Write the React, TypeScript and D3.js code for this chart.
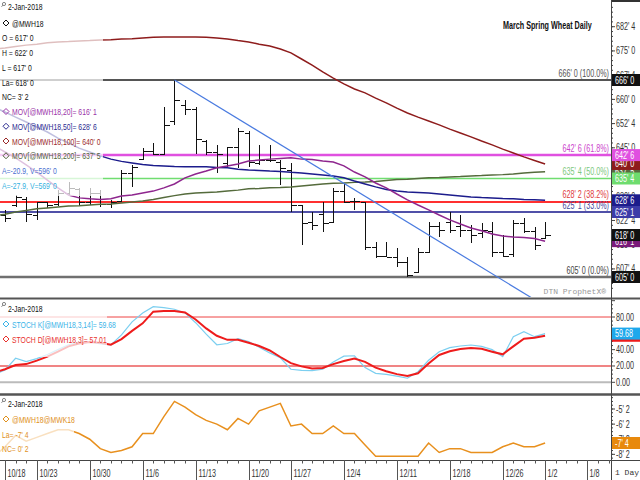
import * as d3 from 'd3';

// trading days shown on the time axis (10/17 sits just left of the plot edge)
const tradingDays = [
  '10/17', '10/18', '10/19', '10/20', '10/23', '10/24', '10/25', '10/26', '10/27',
  '10/30', '10/31', '11/1', '11/2', '11/3', '11/6', '11/7', '11/8', '11/9', '11/10',
  '11/13', '11/14', '11/15', '11/16', '11/17', '11/20', '11/21', '11/22', '11/24',
  '11/27', '11/28', '11/29', '11/30', '12/1', '12/4', '12/5', '12/6', '12/7', '12/8',
  '12/11', '12/12', '12/13', '12/14', '12/15', '12/18', '12/19', '12/20', '12/21', '12/22',
  '12/26', '12/27', '12/28', '12/29', '1/2', '1/3', '1/4', '1/5', '1/8', '1/9', '1/10',
];
const xTickLabels = ['10/18', '10/23', '10/30', '11/6', '11/13', '11/20', '11/27', '12/4', '12/11', '12/18', '12/26', '1/2', '1/8'];

// OHLC bars, 10/18 .. 1/2 (cents/bu)
const barOpen = [624, 627, 629, 624, 628, 627.5, 631, 632, 628, 631, 627.5, 628.5, 637, 641.5, 644, 643, 653, 658, 657, 647, 643.5, 640, 645, 649.5, 640, 641, 640.5, 638, 627, 622, 624.5, 622, 631.5, 628.5, 628, 614, 611.5, 611, 609.5, 606.5, 612.5, 620.5, 622, 620.5, 619.5, 618.5, 619, 612.5, 612, 621.5, 619, 617];
const barHigh = [625.8, 630.4, 629.8, 628.2, 628.2, 632, 634.4, 632.6, 632.6, 631.9, 628.8, 638.1, 639.7, 644.9, 646.5, 657.6, 666, 659.8, 657.6, 647.4, 645.9, 645.3, 651.1, 650.2, 645.9, 645.9, 641.2, 640.3, 627.3, 625.1, 628.2, 632.6, 634.1, 629.5, 628.2, 615.8, 615.8, 614, 611.2, 614, 622, 622, 625.1, 624.2, 621.1, 621.7, 622, 618, 622.7, 623.3, 620.5, 622];
const barLow = [622, 626.7, 622, 622.7, 626.4, 627, 630.4, 627.3, 627.3, 626.7, 626.4, 628.2, 632.9, 641.2, 642.8, 642.8, 652.1, 655.2, 643, 642.8, 637.2, 639.1, 638.8, 639.1, 639.7, 640.6, 633.5, 625.1, 614.9, 619.6, 618.9, 621.7, 627.9, 625.8, 613.4, 610.9, 611.2, 608.1, 605, 606.2, 612.4, 617.4, 618.6, 617.4, 615.5, 617.1, 611.2, 611.2, 611.2, 618.6, 613.4, 617];
const barClose = [623, 629.5, 624.5, 628, 627, 631, 632.5, 628, 631, 627.5, 628, 637, 639, 644, 643, 652, 659.5, 657, 647.5, 643.5, 643, 645, 650, 640.5, 641, 641, 638.5, 627, 621.5, 621, 621.5, 631.5, 628, 628.5, 614, 611.5, 611, 609.5, 605.5, 612.5, 620.5, 619.5, 619.5, 619.5, 618, 619.5, 612.5, 611.5, 621.5, 619, 614.75, 618];

// moving averages, 10/17 .. 1/2
const ma20 = [645.6, 643.7, 641.9, 639.7, 637.5, 635.0, 632.6, 630.4, 629.5, 629.2, 629.0, 629.2, 630.1, 630.4, 631.0, 631.6, 632.6, 633.8, 635.7, 636.9, 637.8, 638.8, 639.4, 640.0, 640.9, 641.2, 641.5, 641.7, 641.9, 641.5, 641.4, 640.9, 640.6, 639.4, 637.5, 636.0, 634.1, 632.6, 630.7, 628.9, 627.3, 625.8, 624.2, 622.7, 621.4, 620.2, 619.3, 618.3, 617.7, 617.4, 617.2, 616.9, 616.1];
const ma50 = [657.5, 656.1, 654.5, 653.0, 651.4, 649.9, 648.0, 646.5, 644.9, 643.7, 642.5, 641.5, 640.8, 640.3, 639.8, 639.5, 639.4, 639.2, 639.1, 639.1, 639.1, 638.9, 638.8, 638.4, 638.1, 638.0, 637.8, 637.7, 637.4, 637.2, 636.9, 636.6, 636.3, 635.7, 634.7, 633.8, 632.9, 632.1, 631.6, 631.3, 631.2, 631.0, 630.7, 630.4, 630.1, 629.8, 629.6, 629.5, 629.3, 629.2, 629.0, 628.9, 628.75];
const ma100 = [675.6, 675.9, 676.4, 676.8, 677.1, 677.5, 677.8, 677.9, 678.1, 678.2, 678.4, 678.5, 678.7, 678.8, 679.0, 679.2, 679.3, 679.3, 679.3, 679.3, 679.2, 679.0, 678.7, 678.2, 677.8, 677.1, 676.5, 675.6, 674.4, 672.5, 670.6, 668.5, 666.6, 664.8, 663.2, 662.0, 660.4, 658.9, 657.3, 655.8, 654.5, 653.3, 652.1, 650.8, 649.6, 648.4, 647.1, 645.9, 644.6, 643.4, 642.2, 641.1, 640.0];
const ma200 = [623.9, 624.4, 625.1, 625.6, 626.1, 626.4, 626.7, 627.0, 627.1, 627.3, 627.5, 627.6, 627.9, 628.2, 628.5, 629.0, 629.6, 630.2, 630.7, 631.0, 631.2, 631.3, 631.6, 631.9, 632.3, 632.4, 632.6, 632.7, 632.9, 633.2, 633.5, 633.8, 634.0, 634.1, 634.3, 634.4, 634.6, 634.9, 635.2, 635.3, 635.5, 635.7, 635.8, 636.0, 636.1, 636.3, 636.4, 636.6, 636.7, 636.9, 637.2, 637.4, 637.6];

// stochastics, 10/17 .. 1/2
const stochK = [10, 15, 29.4, 25.3, 29, 34, 40, 46, 49, 49.7, 47, 45.7, 58, 74, 85, 92.6, 91.5, 89.5, 85, 73, 59, 46, 47.5, 53.5, 50, 43, 36, 30, 16, 14.5, 14.3, 16, 25, 32, 32.5, 18, 11, 9.8, 7.5, 5, 13, 27, 37.5, 42.5, 44.5, 45.7, 44, 40, 31.4, 55.9, 62, 55.9, 59.68];
const stochD = [12, 16, 21.2, 22.3, 26.5, 31.5, 37.5, 44, 47.5, 49.5, 48.5, 46, 53, 63, 72.2, 86.5, 87.3, 87.3, 85.5, 77, 66, 57, 52, 52, 48.5, 44.5, 39, 31, 23.5, 19.5, 16.8, 17.5, 22.3, 26, 29, 25, 18, 13.5, 10, 7.8, 11, 23, 33.5, 38, 40.8, 42, 41, 37.5, 34.3, 44, 53.5, 54.6, 57.01];

// March/May spread, 10/17 .. 1/2
const spread = [-8.375, -7.75, -7.0, -7.375, -7.125, -6.875, -6.625, -6.625, -6.875, -7.25, -7.875, -8.125, -8.0, -7.75, -6.875, -6.875, -5.75, -4.75, -5.125, -5.625, -6.0, -6.25, -6.625, -5.875, -6.25, -5.375, -5.125, -4.875, -6.375, -6.25, -6.875, -6.875, -6.375, -6.875, -6.875, -7.625, -8.375, -8.375, -8.375, -8.375, -8.375, -7.5, -8.125, -7.875, -7.875, -8.125, -8.125, -8.125, -7.75, -7.5, -7.75, -7.75, -7.5];

// retracement levels and the downtrend line
const fibValues = [666, 642.75, 635.5, 628.25, 625.125, 605];
const fibPcts = ['100.0%', '61.8%', '50.0%', '38.2%', '33.0%', '0.0%'];
const trendDays = ['11/9', '1/2'];
const trendValues = [666, 596];

const priceTicks = [607.5, 615, 622.5, 630, 637.5, 645, 652.5, 660, 667.5, 675, 682.5];
const stochTicks = [0, 20, 40, 60, 80];
const spreadTicks = [-8.25, -7.25, -6.25, -5.25];

const font = "'Liberation Sans', Arial, sans-serif";
const mono = "'Liberation Mono', 'DejaVu Sans Mono', monospace";
const squeeze = 0.72; // the terminal's narrow UI font

const plotRight = 611;
const x = d3.scalePoint<string>().domain(tradingDays).range([5 - 10.59, 5 + 57 * 10.59]);
const yPrice = d3.scaleLinear().domain([605, 666]).range([277, 80]);
const yStoch = d3.scaleLinear().domain([0, 80]).range([382.3, 317]);
const ySpread = d3.scaleLinear().domain([-7.5, -5.25]).range([443, 409]);

function fmt8(v: number) {
  const sign = v < 0 ? '-' : '';
  const a = Math.abs(v);
  let w = Math.floor(a);
  let e = Math.round((a - w) * 8);
  if (e === 8) { w += 1; e = 0; }
  return `${sign}${w}' ${e}`;
}

function T({ x, y, fill = '#111', size = 9.5, anchor = 'start', bold = false, children }:
  { x: number; y: number; fill?: string; size?: number; anchor?: string; bold?: boolean; children: any }) {
  return (
    <text transform={`translate(${x},${y}) scale(${squeeze},1)`} fontSize={size} fill={fill}
      textAnchor={anchor as any} fontWeight={bold ? 'bold' : 'normal'} fontFamily={font}>
      {children}
    </text>
  );
}

function Diamond({ cx, cy, color }: { cx: number; cy: number; color: string }) {
  return <path d={`M${cx},${cy - 3}L${cx + 3},${cy}L${cx},${cy + 3}L${cx - 3},${cy}Z`} fill="none" stroke={color} strokeWidth={1} />;
}

function Lens({ x0, y0 }: { x0: number; y0: number }) {
  return (
    <g stroke="#666" strokeWidth={0.8} fill="none">
      <circle cx={x0 + 2} cy={y0 + 2} r={1.6} />
      <line x1={x0 + 0.8} y1={y0 + 3.2} x2={x0 - 0.5} y2={y0 + 4.8} />
    </g>
  );
}

function ValueBox({ y, fill, label }: { y: number; fill: string; label: string }) {
  return (
    <g>
      <rect x={plotRight + 1} y={y - 6} width={640 - plotRight - 1} height={12} fill={fill} />
      <T x={plotRight + 4} y={y + 3.5} fill="#fff" size={10}>{label}</T>
    </g>
  );
}

export default function App() {
  const lineDays = tradingDays.slice(0, ma20.length);
  const barDays = tradingDays.slice(1, 1 + barOpen.length);
  const path = (vals: number[], y: (v: number) => number) =>
    d3.line<number>().x((_, i) => x(lineDays[i])!).y((d) => y(d))(vals) || '';

  const last = barOpen.length - 1;
  const nc = barClose[last] - barClose[last - 1];
  const spreadNc = spread[spread.length - 1] - spread[spread.length - 2];

  const fibColors = ['#555555', '#e050e0', '#70dd70', '#ff3030', '#5050a8', '#707070'];
  const fibText = ['#555555', '#cc44cc', '#7cc87c', '#e03a3a', '#4848a0', '#444444'];
  const fibWidth = [2, 2.5, 1.5, 2, 2, 2.5];

  const rowY = (r: number) => 26.5 + r * 14.75;
  const mainRows: { t: string; c: string; d?: boolean }[] = [
    { t: '@MWH18', c: '#111', d: true },
    { t: `O = ${fmt8(barOpen[last])}`, c: '#111' },
    { t: `H = ${fmt8(barHigh[last])}`, c: '#111' },
    { t: `L = ${fmt8(barLow[last])}`, c: '#111' },
    { t: `La= ${fmt8(barClose[last])}`, c: '#111' },
    { t: `NC= ${fmt8(nc)}`, c: '#111' },
    { t: `MOV[@MWH18,20]= ${fmt8(ma20[ma20.length - 1])}`, c: '#9a32a8', d: true },
    { t: `MOV[@MWH18,50]= ${fmt8(ma50[ma50.length - 1])}`, c: '#2a2a90', d: true },
    { t: `MOV[@MWH18,100]= ${fmt8(ma100[ma100.length - 1])}`, c: '#9a2a2a', d: true },
    { t: `MOV[@MWH18,200]= ${fmt8(ma200[ma200.length - 1])}`, c: '#4f5f3a', d: true },
    { t: `A=-20.9, V=${fmt8(trendValues[1])}`, c: '#4a6fd0' },
    { t: "A=-27.9, V=569' 0", c: '#35b0e0' },
  ];

  const px = (d: string) => Math.round(x(d)!) + 0.5;

  return (
    <svg width={640} height={480} style={{ position: 'fixed', left: 0, top: 0, background: '#fff' }} fontFamily={font}>
      <defs>
        <clipPath id="cMain"><rect x={0} y={0} width={plotRight} height={297} /></clipPath>
        <clipPath id="cStoch"><rect x={0} y={299} width={plotRight} height={94} /></clipPath>
        <clipPath id="cSpread"><rect x={0} y={396} width={plotRight} height={64} /></clipPath>
      </defs>
      <rect x={0} y={0} width={640} height={480} fill="#fff" />

      {/* ---------- price panel ---------- */}
      <g clipPath="url(#cMain)">
        {fibValues.map((v, i) => (
          <line key={v} x1={0} x2={plotRight} y1={yPrice(v)} y2={yPrice(v)} stroke={fibColors[i]} strokeWidth={fibWidth[i]} />
        ))}
        <g stroke="#111" strokeWidth={1} shapeRendering="crispEdges">
          {barDays.map((d, i) => {
            const cx = px(d);
            return (
              <g key={d}>
                <line x1={cx} x2={cx} y1={yPrice(barHigh[i])} y2={yPrice(barLow[i])} />
                <line x1={cx - 5} x2={cx} y1={yPrice(barOpen[i])} y2={yPrice(barOpen[i])} />
                <line x1={cx} x2={cx + 5} y1={yPrice(barClose[i])} y2={yPrice(barClose[i])} />
              </g>
            );
          })}
        </g>
        <path d={path(ma200, yPrice)} fill="none" stroke="#556b3c" strokeWidth={1.5} />
        <path d={path(ma100, yPrice)} fill="none" stroke="#8e1c1c" strokeWidth={1.5} />
        <path d={path(ma50, yPrice)} fill="none" stroke="#1c1c8c" strokeWidth={1.5} />
        <path d={path(ma20, yPrice)} fill="none" stroke="#8e268e" strokeWidth={1.5} />
        <line x1={x(trendDays[0])} y1={yPrice(trendValues[0])} x2={x(trendDays[1])} y2={yPrice(trendValues[1])} stroke="#4a7be0" strokeWidth={1.2} />
        {fibValues.map((v, i) => (
          <T key={v} x={609} y={yPrice(v) - 3.5} anchor="end" size={10} fill={fibText[i]}>{`${fmt8(v)} (${fibPcts[i]})`}</T>
        ))}
        <text x={606} y={294} textAnchor="end" fontSize={8} fontFamily={mono} fill="#999">DTN ProphetX®</text>
      </g>
      <rect x={0} y={0} width={103} height={196} fill="#fff" opacity={0.72} />
      <Lens x0={2} y0={2} />
      <T x={8} y={10}>2-Jan-2018</T>
      {mainRows.map((r, i) => (
        <g key={r.t}>
          {r.d && <Diamond cx={6} cy={rowY(i) - 3.5} color={r.c} />}
          <T x={r.d ? 12 : 2} y={rowY(i)} fill={r.c}>{r.t}</T>
        </g>
      ))}
      <T x={503} y={29} size={10} bold>March Spring Wheat Daily</T>

      {/* price axis */}
      <g stroke="#444" strokeWidth={1}>
        {d3.range(601.5, 690, 1.5).map((v) => (
          <line key={v} x1={plotRight} x2={plotRight + 2} y1={yPrice(v)} y2={yPrice(v)} />
        ))}
        {priceTicks.map((v) => (
          <line key={v} x1={plotRight} x2={plotRight + 4} y1={yPrice(v)} y2={yPrice(v)} />
        ))}
      </g>
      {priceTicks.map((v) => (
        <T key={v} x={616} y={yPrice(v) + 3.5} size={10} fill="#333">{fmt8(v)}</T>
      ))}
      <ValueBox y={yPrice(ma200[ma200.length - 1])} fill="#5a6a40" label={fmt8(ma200[ma200.length - 1])} />
      <ValueBox y={yPrice(fibValues[2])} fill="#6edc6e" label={fmt8(fibValues[2])} />
      <ValueBox y={yPrice(fibValues[3])} fill="#ff2a2a" label={fmt8(fibValues[3])} />
      <ValueBox y={yPrice(ma50[ma50.length - 1])} fill="#1c1c8c" label={fmt8(ma50[ma50.length - 1])} />
      <ValueBox y={yPrice(fibValues[4])} fill="#3c3ca8" label={fmt8(fibValues[4])} />
      <ValueBox y={yPrice(ma100[ma100.length - 1])} fill="#8e1c1c" label={fmt8(ma100[ma100.length - 1])} />
      <ValueBox y={yPrice(fibValues[1])} fill="#e050e0" label={fmt8(fibValues[1])} />
      <ValueBox y={yPrice(ma20[ma20.length - 1])} fill="#7a1a7a" label={fmt8(ma20[ma20.length - 1])} />
      <ValueBox y={yPrice(barClose[last])} fill="#111" label={fmt8(barClose[last])} />
      <ValueBox y={yPrice(fibValues[0])} fill="#111" label={fmt8(fibValues[0])} />
      <ValueBox y={yPrice(fibValues[5])} fill="#111" label={fmt8(fibValues[5])} />

      {/* ---------- stochastic panel ---------- */}
      <g clipPath="url(#cStoch)">
        <line x1={0} x2={plotRight} y1={yStoch(80)} y2={yStoch(80)} stroke="#ee4444" strokeWidth={1} />
        <line x1={0} x2={plotRight} y1={yStoch(20)} y2={yStoch(20)} stroke="#f08484" strokeWidth={2} />
        <line x1={0} x2={plotRight} y1={yStoch(0)} y2={yStoch(0)} stroke="#bbbbbb" strokeWidth={2} />
        <path d={path(stochK, yStoch)} fill="none" stroke="#7ccff0" strokeWidth={1.2} />
        <path d={path(stochD, yStoch)} fill="none" stroke="#ee1c1c" strokeWidth={2} />
      </g>
      <rect x={0} y={300} width={107} height={57} fill="#fff" opacity={0.72} />
      <Lens x0={2} y0={302} />
      <T x={8} y={312}>2-Jan-2018</T>
      <Diamond cx={6} cy={324} color="#3ab4e8" />
      <T x={12} y={327.5} fill="#3ab4e8">{`STOCH K[@MWH18,3,14]=  ${stochK[stochK.length - 1].toFixed(2)}`}</T>
      <Diamond cx={6} cy={339} color="#e8302c" />
      <T x={12} y={342.5} fill="#e8302c">{`STOCH D[@MWH18,3]=  ${stochD[stochD.length - 1].toFixed(2)}`}</T>
      <g stroke="#444" strokeWidth={1}>
        {d3.range(0, 101, 5).map((v) => (
          <line key={v} x1={plotRight} x2={plotRight + (v % 20 === 0 ? 4 : 2)} y1={yStoch(v)} y2={yStoch(v)} />
        ))}
      </g>
      {stochTicks.map((v) => (
        <T key={v} x={616} y={yStoch(v) + 3.5} size={10} fill="#333">{v.toFixed(2)}</T>
      ))}
      <ValueBox y={yStoch(stochD[stochD.length - 1])} fill="#ee1c1c" label={stochD[stochD.length - 1].toFixed(2)} />
      <ValueBox y={yStoch(stochK[stochK.length - 1])} fill="#1ea8ec" label={stochK[stochK.length - 1].toFixed(2)} />

      {/* ---------- spread panel ---------- */}
      <g clipPath="url(#cSpread)">
        <path d={path(spread, ySpread)} fill="none" stroke="#e8901e" strokeWidth={1.5} />
      </g>
      <rect x={0} y={397} width={74} height={61} fill="#fff" opacity={0.72} />
      <Lens x0={2} y0={398} />
      <T x={8} y={406.5}>2-Jan-2018</T>
      <Diamond cx={6} cy={419} color="#e0901c" />
      <T x={12} y={422.5} fill="#e0901c">@MWH18@MWK18</T>
      <T x={2} y={437.5} fill="#e0901c">{`La= ${fmt8(spread[spread.length - 1])}`}</T>
      <T x={2} y={451.5} fill="#e0901c">{`NC= ${fmt8(spreadNc)}`}</T>
      <g stroke="#444" strokeWidth={1}>
        {d3.range(-8.5, -4.4, 0.25).filter((v) => ySpread(v) > 397 && ySpread(v) < 459).map((v) => (
          <line key={v} x1={plotRight} x2={plotRight + 2} y1={ySpread(v)} y2={ySpread(v)} />
        ))}
        {spreadTicks.map((v) => (
          <line key={v} x1={plotRight} x2={plotRight + 4} y1={ySpread(v)} y2={ySpread(v)} />
        ))}
      </g>
      {spreadTicks.map((v) => (
        <T key={v} x={616} y={ySpread(v) + 3.5} size={10} fill="#333">{fmt8(v)}</T>
      ))}
      <ValueBox y={ySpread(spread[spread.length - 1])} fill="#e8890c" label={fmt8(spread[spread.length - 1])} />

      {/* ---------- frame ---------- */}
      <line x1={0} x2={640} y1={298.5} y2={298.5} stroke="#555" strokeWidth={2} />
      <line x1={0} x2={640} y1={394.5} y2={394.5} stroke="#555" strokeWidth={2.5} />
      <line x1={plotRight} x2={640} y1={1} y2={1} stroke="#333" strokeWidth={2} />
      <line x1={plotRight + 0.5} x2={plotRight + 0.5} y1={0} y2={480} stroke="#444" strokeWidth={1} />
      <line x1={0} x2={640} y1={460.5} y2={460.5} stroke="#444" strokeWidth={1.2} />

      {/* time axis */}
      <g stroke="#555" strokeWidth={1}>
        {tradingDays.filter((d) => x(d)! > 0 && x(d)! < plotRight).map((d) => (
          <line key={d} x1={px(d)} x2={px(d)} y1={460} y2={463.5} />
        ))}
        {xTickLabels.map((d) => (
          <line key={d} x1={px(d)} x2={px(d)} y1={460} y2={480} />
        ))}
      </g>
      {xTickLabels.map((d) => (
        <T key={d} x={px(d) + 2} y={477} size={10} fill="#333">{d}</T>
      ))}
      <text x={615} y={475} fontSize={8} fontFamily={mono} fill="#333">1 Day</text>
    </svg>
  );
}
